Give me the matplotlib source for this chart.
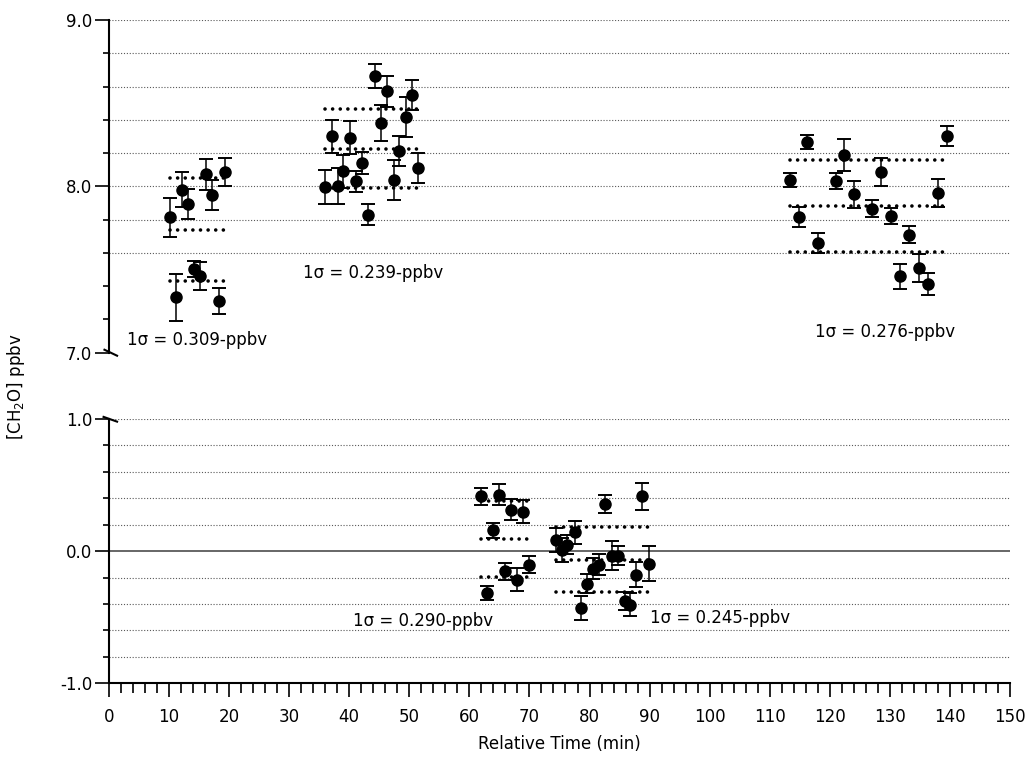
import numpy as np
import matplotlib.pyplot as plt

plt.rcParams['font.family'] = ['DejaVu Sans']
plt.rcParams['font.size'] = 12
plt.rcParams['mathtext.default'] = 'regular'

# ---- ambient segments (upper panel, ppbv) ----
t1 = [10.1, 11.1, 12.15, 13.1, 14.15, 15.15, 16.2, 17.2, 18.3, 19.3]
c1 = [7.815, 7.333, 7.98, 7.896, 7.504, 7.46, 8.072, 7.946, 7.31, 8.086]
e1 = [0.117, 0.142, 0.107, 0.09, 0.05, 0.085, 0.093, 0.09, 0.08, 0.085]

t2 = [36.0, 37.1, 38.2, 39.0, 40.1, 41.2, 42.2, 43.2, 44.3, 45.3, 46.3, 47.4, 48.3, 49.4, 50.5, 51.5]
c2 = [7.996, 8.30, 8.004, 8.09, 8.293, 8.03, 8.14, 7.83, 8.663, 8.38, 8.572, 8.04, 8.213, 8.418, 8.548, 8.11]
e2 = [0.103, 0.097, 0.107, 0.10, 0.10, 0.063, 0.066, 0.065, 0.07, 0.11, 0.092, 0.12, 0.09, 0.12, 0.09, 0.09]

t3 = [113.4, 114.9, 116.2, 118.0, 121.0, 122.4, 124.1, 127.1, 128.6, 130.2, 131.7, 133.2, 134.8, 136.4, 138.0, 139.5]
c3 = [8.036, 7.815, 8.267, 7.661, 8.032, 8.187, 7.952, 7.866, 8.086, 7.82, 7.46, 7.71, 7.51, 7.414, 7.96, 8.305]
e3 = [0.042, 0.058, 0.044, 0.06, 0.047, 0.095, 0.08, 0.05, 0.082, 0.048, 0.075, 0.05, 0.085, 0.065, 0.082, 0.06]

# ---- zero-air segments (lower panel, ppbv) ----
t4 = [61.9, 62.9, 63.9, 65.0, 65.9, 66.9, 68.0, 69.0, 70.0]
c4 = [0.414, -0.316, 0.157, 0.426, -0.152, 0.313, -0.215, 0.30, -0.102]
e4 = [0.063, 0.053, 0.057, 0.08, 0.063, 0.08, 0.09, 0.084, 0.063]

t5 = [74.4, 75.4, 76.3, 77.6, 78.6, 79.5, 80.6, 81.6, 82.6, 83.7, 84.8, 85.9, 86.7, 87.8, 88.8, 89.9]
c5 = [0.087, 0.011, 0.049, 0.142, -0.429, -0.245, -0.134, -0.102, 0.358, -0.034, -0.034, -0.379, -0.404, -0.177, 0.414, -0.094]
e5 = [0.09, 0.09, 0.07, 0.088, 0.09, 0.07, 0.08, 0.08, 0.066, 0.11, 0.07, 0.07, 0.09, 0.092, 0.10, 0.13]

# mean and 1-sigma of each segment
means = [7.74, 8.227, 7.88, 0.092, -0.064]
sigmas = [0.309, 0.239, 0.276, 0.290, 0.245]
sigma_labels = ['1\u03c3 = 0.309-ppbv', '1\u03c3 = 0.239-ppbv', '1\u03c3 = 0.276-ppbv',
                '1\u03c3 = 0.290-ppbv', '1\u03c3 = 0.245-ppbv']

top_grid = [7.6, 7.8, 8.0, 8.2, 8.4, 8.6, 8.8, 9.0]
bot_grid = [-0.8, -0.6, -0.4, -0.2, 0.2, 0.4, 0.6, 0.8, 1.0]

fig = plt.figure(figsize=(10.28, 7.61), dpi=100)
ax_t = fig.add_axes([0.106, 0.5365, 0.8765, 0.4372])
ax_b = fig.add_axes([0.106, 0.1021, 0.8765, 0.3473])

grid_style = dict(color='0.35', lw=0.8, ls=(0, (1, 1.6)), zorder=0)
for g in top_grid:
    ax_t.axhline(g, **grid_style)
for g in bot_grid:
    ax_b.axhline(g, **grid_style)
ax_b.axhline(0.0, color='0.3', lw=1.2, zorder=0)

groups = [(ax_t, t1, c1, e1), (ax_t, t2, c2, e2), (ax_t, t3, c3, e3),
          (ax_b, t4, c4, e4), (ax_b, t5, c5, e5)]

for i, (ax, t, c, e) in enumerate(groups):
    ax.errorbar(t, c, yerr=e, fmt='o', color='black', ms=8, elinewidth=1.1,
                capsize=5, capthick=1.4, zorder=3)
    m, s = means[i], sigmas[i]
    for lev in (m - s, m, m + s):
        ax.plot([min(t), max(t)], [lev, lev], color='black', lw=2.6,
                ls=(0, (0.01, 2.1)), dash_capstyle='round', zorder=2)

ax_t.text(3.0, 7.075, sigma_labels[0], va='center')
ax_t.text(32.3, 7.48, sigma_labels[1], va='center')
ax_t.text(117.5, 7.125, sigma_labels[2], va='center')
ax_b.text(40.6, -0.53, sigma_labels[3], va='center')
ax_b.text(90.0, -0.505, sigma_labels[4], va='center')

for ax in (ax_t, ax_b):
    ax.set_xlim(0, 150)
    ax.spines['top'].set_visible(False)
    ax.spines['right'].set_visible(False)
    ax.spines['left'].set_linewidth(1.5)
    ax.tick_params(axis='y', which='major', direction='out', length=10, width=1.2, pad=2)
    ax.tick_params(axis='y', which='minor', direction='out', length=4.5, width=1.2)

ax_t.set_ylim(7, 9)
ax_t.set_yticks([7, 8, 9])
ax_t.set_yticklabels(['7.0', '8.0', '9.0'])
ax_t.set_yticks(np.arange(7, 9.01, 0.2), minor=True)
ax_t.spines['bottom'].set_visible(False)
ax_t.tick_params(axis='x', which='both', bottom=False, labelbottom=False)

ax_b.set_ylim(-1, 1)
ax_b.set_yticks([-1, 0, 1])
ax_b.set_yticklabels(['-1.0', '0.0', '1.0'])
ax_b.set_yticks(np.arange(-1, 1.01, 0.2), minor=True)
ax_b.spines['bottom'].set_linewidth(1.5)
ax_b.set_xticks(np.arange(0, 151, 10))
ax_b.set_xticks(np.arange(0, 151, 2), minor=True)
ax_b.tick_params(axis='x', which='major', direction='out', length=10, width=1.2, pad=8)
ax_b.tick_params(axis='x', which='minor', direction='out', length=7, width=1.2)
ax_b.set_xlabel('Relative Time (min)', labelpad=6)

# axis break marks
ax_t.plot([-0.005, 0.009], [0.009, -0.009], transform=ax_t.transAxes,
          color='black', lw=1.5, clip_on=False)
ax_b.plot([-0.006, 0.009], [1.008, 0.99], transform=ax_b.transAxes,
          color='black', lw=1.5, clip_on=False)

fig.text(16 / 1028, 1 - 387 / 761, '[CH$_2$O] ppbv', rotation=90,
         ha='center', va='center')

fig.savefig('out.png', dpi=100)
